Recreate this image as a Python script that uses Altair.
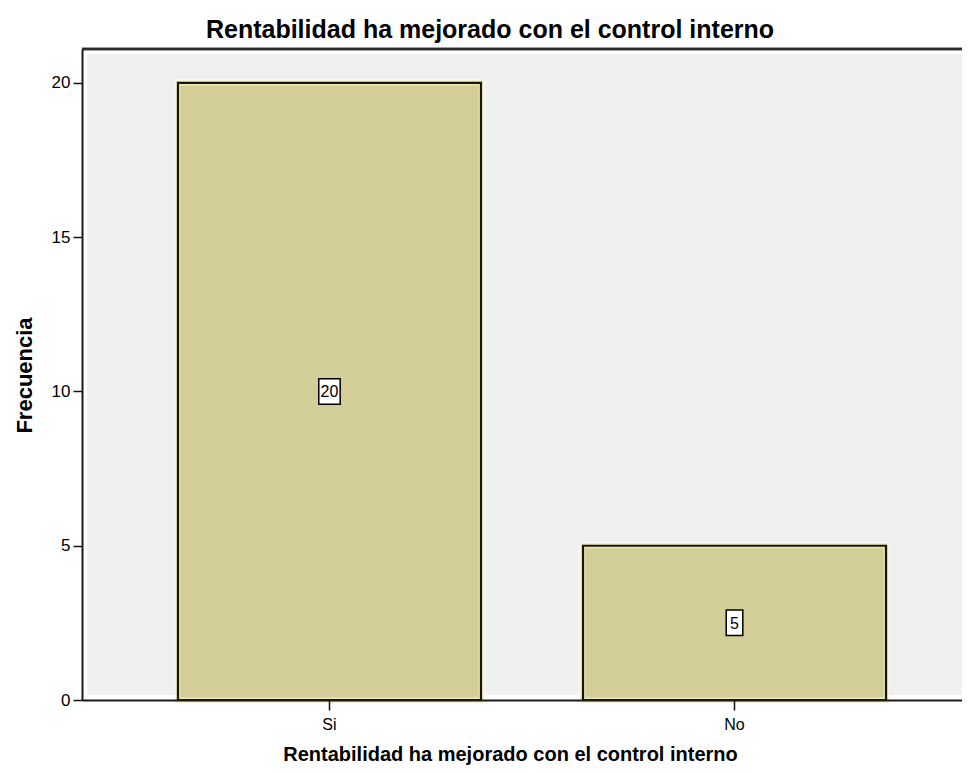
import altair as alt
import pandas as pd

categories = ["Si", "No"]
counts = [20, 5]
chart_title = "Rentabilidad ha mejorado con el control interno"
x_title = "Rentabilidad ha mejorado con el control interno"
y_title = "Frecuencia"
y_ticks = [0, 5, 10, 15, 20]

FONT = "Liberation Sans"
W, H = 880, 651

df = pd.DataFrame({"cat": categories, "n": counts})
df["half"] = df["n"] / 2
df["label"] = df["n"].astype(str)
df["box"] = [
    "M{0:.3f},-1H{1:.3f}V1H{0:.3f}Z".format(-(0.46 + 0.19 * len(s)), 0.46 + 0.19 * len(s))
    for s in df["label"]
]

xs = alt.Scale(domain=categories, range=[0, 900], paddingInner=0.252, paddingOuter=0.237)
ys = alt.Scale(domain=[0, 21.1], nice=False, zero=True)

x_axis = alt.Axis(
    labelAngle=0, tickSize=10, tickWidth=1.5, tickColor="#111111",
    labelPadding=6, labelFontSize=16, labelFont=FONT, labelColor="#000000",
    title=x_title, titleFont=FONT, titleFontSize=20, titleFontWeight="bold",
    titleColor="#000000", titleX=428, titleY=60, titleBaseline="alphabetic",
    titleAlign="center", domainColor="#1a1a1a", domainWidth=2, zindex=1,
)
y_axis = alt.Axis(
    values=y_ticks, tickSize=9, tickWidth=1.5, tickColor="#111111",
    labelPadding=3, labelFontSize=17, labelFont=FONT, labelColor="#000000",
    title=y_title, titleFont=FONT, titleFontSize=22, titleFontWeight="bold",
    titleColor="#000000", titleX=-51, titleY=326, titleBaseline="alphabetic",
    titleAlign="center", titleAngle=270, domainColor="#1a1a1a", domainWidth=2,
    grid=False, zindex=1,
)

X = alt.X("cat:N", scale=xs, sort=categories, axis=x_axis)

base = alt.Chart(df).encode(x=X)

panel = alt.Chart(df).mark_rect(fill="#F0F0F0").encode(
    x=alt.value(5), x2=alt.value(905), y=alt.value(5), y2=alt.value(H - 5)
)
halo = base.mark_bar(fill="#D3CE97", stroke="#ffffff", strokeWidth=7).encode(
    y=alt.Y("n:Q", scale=ys, axis=y_axis)
)
inner = base.mark_bar(fill="#D3CE97", stroke="#EDE8AE", strokeWidth=5).encode(
    y=alt.Y("n:Q", scale=ys, axis=y_axis)
)
bars = base.mark_bar(fillOpacity=0, stroke="#151515", strokeWidth=2.2).encode(
    y=alt.Y("n:Q", scale=ys, axis=y_axis)
)
boxes = base.mark_point(
    filled=True, fill="#ffffff", stroke="#000000", strokeWidth=1.5,
    size=650, opacity=1, fillOpacity=1, strokeOpacity=1,
).encode(
    y=alt.Y("half:Q", scale=ys, axis=y_axis),
    shape=alt.Shape("box:N", scale=None),
)
texts = base.mark_text(font=FONT, fontSize=16, color="#000000", baseline="middle", dy=1).encode(
    y=alt.Y("half:Q", scale=ys, axis=y_axis),
    text="label:N",
)
top_rule = alt.Chart(df).mark_rule(color="#2a2a2a", strokeWidth=2.5).encode(
    x=alt.value(0), x2=alt.value(900), y=alt.value(0)
)

chart = (
    alt.layer(panel, halo, inner, bars, boxes, texts, top_rule)
    .properties(
        width=W,
        height=H,
        autosize=alt.AutoSizeParams(type="none"),
        padding={"left": 74, "top": 41, "right": 0, "bottom": 65},
        title=alt.Title(
            chart_title, font=FONT, fontSize=25, fontWeight="bold", color="#000000",
            anchor="middle", dx=-32, dy=27, offset=12, baseline="alphabetic",
        ),
    )
    .configure_view(strokeWidth=0)
    .configure(background="#ffffff")
)

chart.save("out.html", embed_options={"renderer": "svg", "actions": False})
